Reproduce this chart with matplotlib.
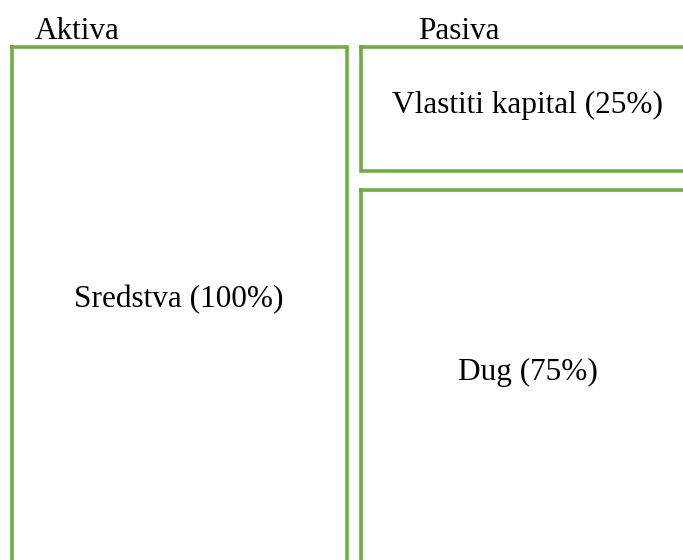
import matplotlib.pyplot as plt
from matplotlib.patches import Rectangle

# data
side_titles = ["Aktiva", "Pasiva"]
box_names = ["Sredstva", "Vlastiti kapital", "Dug"]
box_shares = [100, 25, 75]

# layout in pixel coordinates (x0, y0, x1, y1)
box_geom = [(12, 47, 347, 600), (361, 47, 720, 171), (361, 190, 720, 600)]
box_text_pos = [(179, 307), (527, 113), (528, 380)]
title_pos = [(35, 39), (418, 39)]

green = "#70AD47"
W, H = 683, 560

fig = plt.figure(figsize=(W / 100, H / 100), dpi=100)
ax = fig.add_axes([0, 0, 1, 1])
ax.set_xlim(0, W)
ax.set_ylim(H, 0)
ax.axis("off")

font = dict(family=["Liberation Serif", "DejaVu Serif"], size=22.5, color="#000000")

for (x0, y0, x1, y1), name, share, (tx, ty) in zip(box_geom, box_names, box_shares, box_text_pos):
    ax.add_patch(Rectangle((x0, y0), x1 - x0, y1 - y0, fill=False,
                           edgecolor=green, linewidth=2.6, joinstyle="miter",
                           capstyle="projecting", clip_on=True))
    ax.text(tx, ty, f"{name} ({share}%)", ha="center", va="baseline", **font)

for title, (tx, ty) in zip(side_titles, title_pos):
    ax.text(tx, ty, title, ha="left", va="baseline", **font)

fig.savefig("out.png", dpi=100)
